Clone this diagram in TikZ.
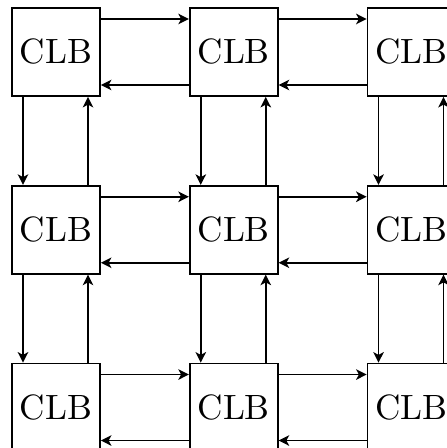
\documentclass[tikz,border=0pt]{standalone}
\usepackage{tikz}
\usetikzlibrary{positioning,arrows.meta}

\begin{document}
\begin{tikzpicture}[
  clb/.style={draw, minimum size=0.88cm, inner sep=0pt, font=\normalsize},
  every path/.style={line width=0.5pt},
  >={Stealth[length=3pt,width=3pt,inset=0.8pt]}
]
\useasboundingbox (0,0) rectangle (4.46,-4.48);
\node[clb] (clb11) at (0.56,-0.52) {CLB};
\node[clb, right=0.88cm of clb11] (clb12) {CLB};
\node[clb, right=0.88cm of clb12] (clb13) {CLB};
\node[clb, below=0.88cm of clb11] (clb21) {CLB};
\node[clb, right=0.88cm of clb21] (clb22) {CLB};
\node[clb, right=0.88cm of clb22] (clb23) {CLB};
\node[clb, below=0.88cm of clb21] (clb31) {CLB};
\node[clb, right=0.88cm of clb31] (clb32) {CLB};
\node[clb, right=0.88cm of clb32] (clb33) {CLB};
% horizontal links
\draw[->] ([yshift=0.33cm]clb11.east) -- ([yshift=0.33cm]clb12.west);
\draw[->] ([yshift=-0.33cm]clb12.west) -- ([yshift=-0.33cm]clb11.east);
\draw[->] ([yshift=0.33cm]clb12.east) -- ([yshift=0.33cm]clb13.west);
\draw[->] ([yshift=-0.33cm]clb13.west) -- ([yshift=-0.33cm]clb12.east);
\draw[->] ([yshift=0.33cm]clb21.east) -- ([yshift=0.33cm]clb22.west);
\draw[->] ([yshift=-0.33cm]clb22.west) -- ([yshift=-0.33cm]clb21.east);
\draw[->] ([yshift=0.33cm]clb22.east) -- ([yshift=0.33cm]clb23.west);
\draw[->] ([yshift=-0.33cm]clb23.west) -- ([yshift=-0.33cm]clb22.east);
\draw[->] ([yshift=0.33cm]clb31.east) -- ([yshift=0.33cm]clb32.west);
\draw[->] ([yshift=-0.33cm]clb32.west) -- ([yshift=-0.33cm]clb31.east);
\draw[->] ([yshift=0.33cm]clb32.east) -- ([yshift=0.33cm]clb33.west);
\draw[->] ([yshift=-0.33cm]clb33.west) -- ([yshift=-0.33cm]clb32.east);
% vertical links
\draw[->] ([xshift=-0.33cm]clb11.south) -- ([xshift=-0.33cm]clb21.north);
\draw[->] ([xshift=0.32cm]clb21.north) -- ([xshift=0.32cm]clb11.south);
\draw[->] ([xshift=-0.33cm]clb12.south) -- ([xshift=-0.33cm]clb22.north);
\draw[->] ([xshift=0.32cm]clb22.north) -- ([xshift=0.32cm]clb12.south);
\draw[->] ([xshift=-0.33cm]clb13.south) -- ([xshift=-0.33cm]clb23.north);
\draw[->] ([xshift=0.32cm]clb23.north) -- ([xshift=0.32cm]clb13.south);
\draw[->] ([xshift=-0.33cm]clb21.south) -- ([xshift=-0.33cm]clb31.north);
\draw[->] ([xshift=0.32cm]clb31.north) -- ([xshift=0.32cm]clb21.south);
\draw[->] ([xshift=-0.33cm]clb22.south) -- ([xshift=-0.33cm]clb32.north);
\draw[->] ([xshift=0.32cm]clb32.north) -- ([xshift=0.32cm]clb22.south);
\draw[->] ([xshift=-0.33cm]clb23.south) -- ([xshift=-0.33cm]clb33.north);
\draw[->] ([xshift=0.32cm]clb33.north) -- ([xshift=0.32cm]clb23.south);
\end{tikzpicture}
\end{document}
